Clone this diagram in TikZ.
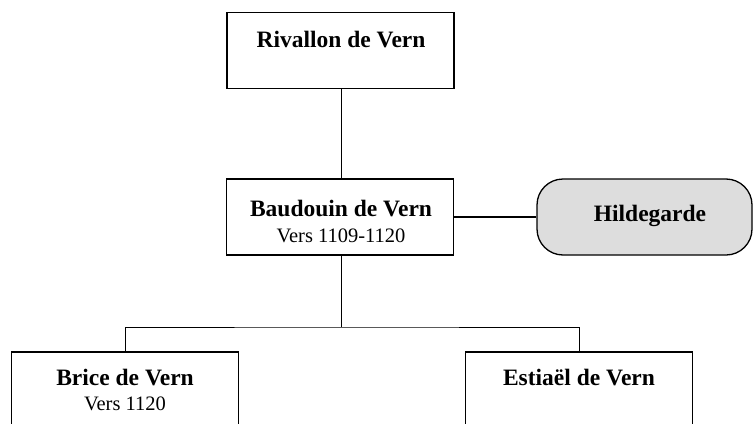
\documentclass[tikz,border=0pt]{standalone}
\usepackage{fontspec}
\setmainfont{Liberation Serif}
\definecolor{spousegray}{RGB}{221,221,221}
\begin{document}
\begin{tikzpicture}[x=1pt,y=-1pt,
  person/.style={draw, line width=1.3pt, minimum width=227pt, minimum height=76pt, inner sep=0pt},
  spouse/.style={draw, line width=1.3pt, rounded corners=26pt, fill=spousegray, minimum width=215pt, minimum height=76pt, inner sep=0pt},
  nm/.style={font=\fontsize{23.5}{27}\selectfont\bfseries, inner sep=0pt, anchor=base},
  dt/.style={font=\fontsize{20.5}{23}\selectfont, inner sep=0pt, anchor=base},
  link/.style={line width=1pt},
  marriage/.style={line width=1.5pt}]
\useasboundingbox (0,0) rectangle (754,423);
\clip (0,0) rectangle (754,423);
% boxes
\node[person] (riv) at (340.5,50.5) {};
\node[person] (bau) at (340,217) {};
\node[spouse] (hil) at (644.5,217) {};
\node[person] (bri) at (125,390) {};
\node[person] (est) at (579,390) {};
% texts
\node[nm] (rivname) at (341,47) {Rivallon de Vern};
\node[nm] (bauname) at (341,216) {Baudouin de Vern};
\node[dt] (baudate) at (341,242) {Vers 1109-1120};
\node[nm] (hilname) at (650,221) {Hildegarde};
\node[nm] (briname) at (125,385) {Brice de Vern};
\node[dt] (bridate) at (125,410) {Vers 1120};
\node[nm] (estname) at (579,385) {Estiaël de Vern};
% connectors
\coordinate (fork) at (341,327);
\draw[link] (riv.south -| fork) -- (bau.north -| fork);
\draw[link] (bau.south -| fork) -- (fork);
\draw[link] (bri.north) |- (fork) -| (est.north);
\draw[marriage] (bau.east) -- (hil.west);
\end{tikzpicture}
\end{document}
